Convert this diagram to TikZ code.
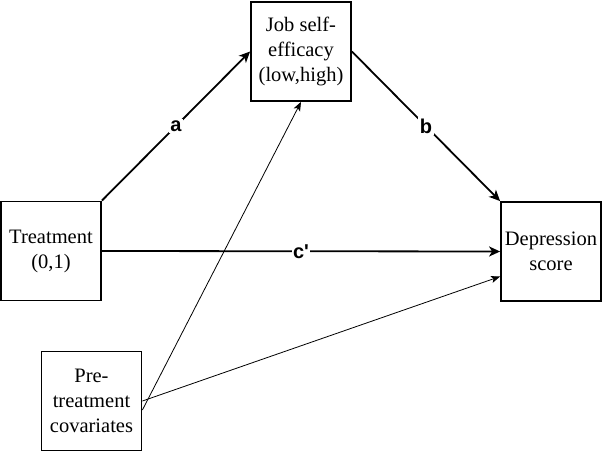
\documentclass[tikz,border=0pt]{standalone}
\usepackage{fontspec}
\setmainfont{Liberation Serif}
\setsansfont{Liberation Sans}
\usetikzlibrary{arrows.meta}
\begin{document}
\begin{tikzpicture}[x=1pt,y=-1pt,
  box/.style={draw, line width=1.8pt, minimum width=100pt, minimum height=99pt, align=center, inner sep=0pt, font=\fontsize{20.5}{25}\selectfont},
  effect/.style={line width=1.8pt, -{Stealth[length=11pt,width=10pt,inset=3pt]}},
  adjust/.style={line width=0.8pt, -{Stealth[length=9pt,width=7pt,inset=2pt]}},
  coef/.style={fill=white, inner sep=1.5pt, font=\sffamily\bfseries\fontsize{20}{22}\selectfont}]
  \useasboundingbox (0,0) rectangle (602,452);
  % Variables
  \node[box] (job) at (301,51.5) {Job self-\\efficacy\\(low,high)};
  \node[box] (treat) at (51,251) {Treatment\\(0,1)};
  \node[box] (dep) at (551,251.5) {Depression\\score};
  \node[box] (cov) at (91.5,401) {Pre-\\treatment\\covariates};
  % Mediation paths
  \draw[effect] (treat.north east) -- node[coef] {a} (job.west);
  \draw[effect] (job.east) -- node[coef] {b} (dep.north west);
  \draw[effect] (treat.east) -- node[coef] {c\textquotesingle} (dep.west);
  % Covariate adjustment
  \coordinate (covout) at ([yshift=-9pt]cov.east);
  \coordinate (depin) at ([yshift=-25pt]dep.west);
  \draw[adjust] (covout) -- (job.south);
  \draw[adjust] (cov.east) -- (depin);
\end{tikzpicture}
\end{document}
